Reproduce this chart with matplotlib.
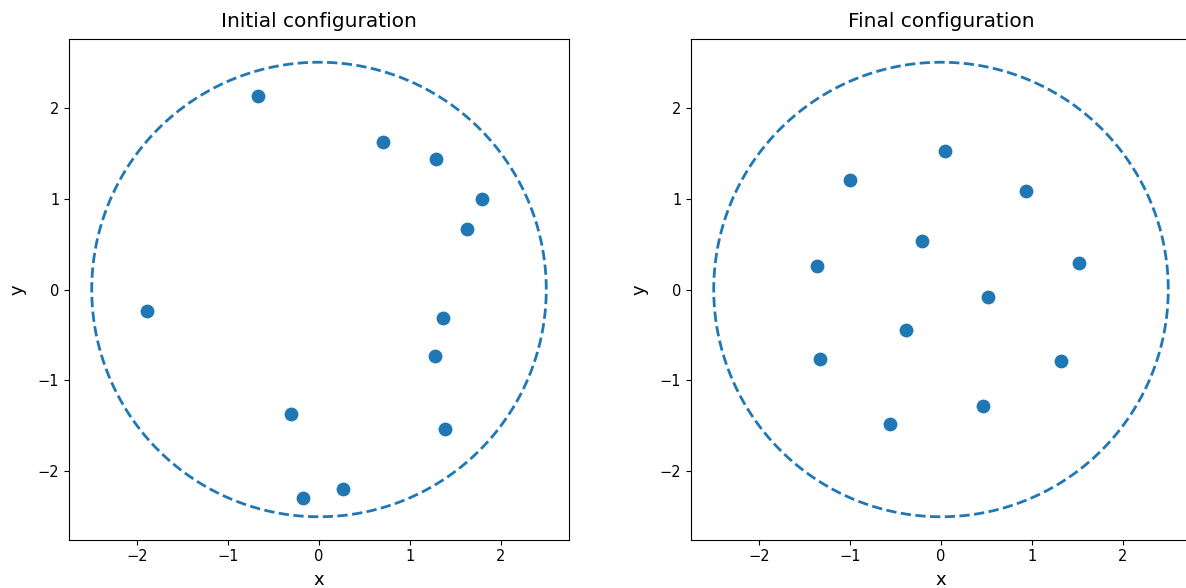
import numpy as np
import matplotlib
matplotlib.use("Agg")
from matplotlib import pyplot as plt

# Circle radius
radius = 2.5

# Initial positions
init_x = [-0.67, 0.70, 1.29, 1.79, 1.63, -1.89, 1.36, 1.28, -0.31, 1.39, -0.18, 0.26]
init_y = [2.13, 1.62, 1.43, 1.00, 0.66, -0.24, -0.31, -0.73, -1.37, -1.53, -2.29, -2.19]

# Final positions
final_x = [0.04, -1.00, 0.94, -0.21, -1.36, 1.52, 0.52, -0.38, -1.33, 1.32, 0.46, -0.56]
final_y = [1.52, 1.20, 1.08, 0.53, 0.26, 0.29, -0.08, -0.44, -0.76, -0.79, -1.28, -1.48]

fig = plt.figure(figsize=(11.86, 5.88), dpi=100)
ax1 = fig.add_axes([69 / 1186, 48 / 588, 500 / 1186, 501 / 588])
ax2 = fig.add_axes([691 / 1186, 48 / 588, 500 / 1186, 501 / 588])

theta = np.linspace(0, 2 * np.pi, 400)


def draw(ax, xs, ys, title):
    ax.plot(radius * np.cos(theta), radius * np.sin(theta), '--', color='C0', lw=2)
    ax.scatter(xs, ys, s=80, color='C0')
    ax.set_aspect('equal')
    ax.set_title(title, fontsize=14.5, pad=9)
    ax.set_xlabel('x', fontsize=13, labelpad=5)
    ax.set_ylabel('y', fontsize=13, labelpad=8)
    ax.tick_params(labelsize=10.5)


draw(ax1, init_x, init_y, 'Initial configuration')
draw(ax2, final_x, final_y, 'Final configuration')

fig.savefig('out.png', dpi=100)
